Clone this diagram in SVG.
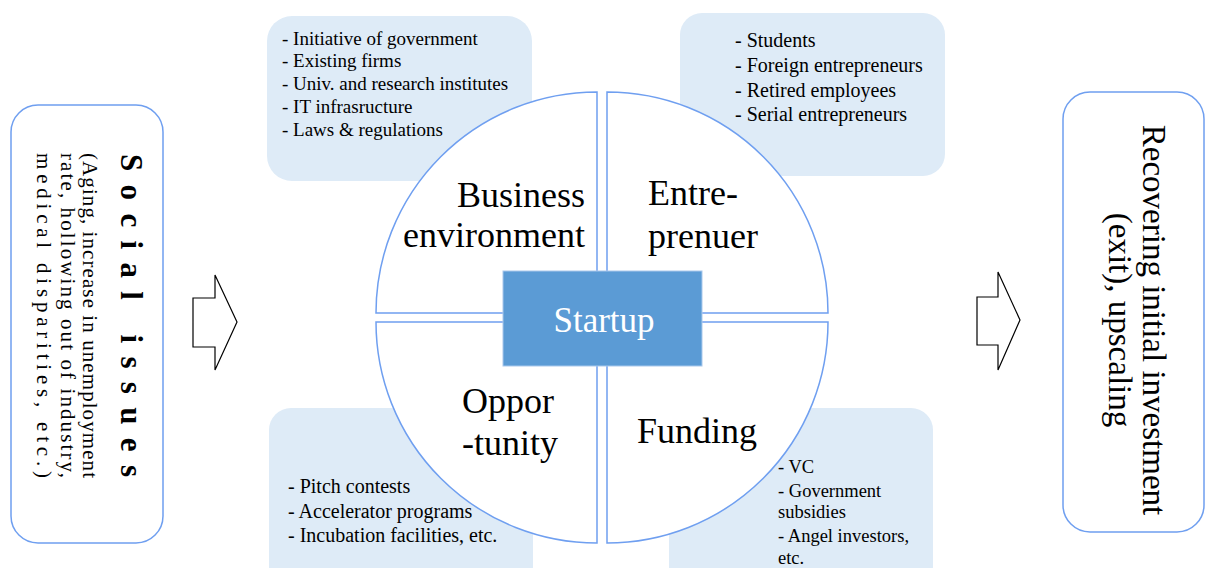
<svg xmlns="http://www.w3.org/2000/svg" width="1205" height="568" viewBox="0 0 1205 568">
<style>
.serif{font-family:"Liberation Serif","Times New Roman",serif;fill:#000}
.outline{fill:#fff;stroke:#6f9ff0;stroke-width:1.5}
.info{fill:#deebf7;stroke:none}
.quad{fill:#fff;stroke:#6f9ff0;stroke-width:1.5}
.list{font-size:19px}
.list2{font-size:20px}
.list3{font-size:18.5px}
.big{font-size:36px}
.arrow{fill:#fff;stroke:#000;stroke-width:1.2}
</style>
<rect width="1205" height="568" fill="#fff"/>

<g id="social-issues">
  <rect class="outline" x="11" y="105" width="152" height="438" rx="27"/>
  <text class="serif" font-size="31" font-weight="bold" transform="translate(121,154) rotate(90)" textLength="323" lengthAdjust="spacing">Social issues</text>
  <text class="serif" font-size="21" transform="translate(83,153) rotate(90)" textLength="325" lengthAdjust="spacing">(Aging, increase in unemployment</text>
  <text class="serif" font-size="21" transform="translate(61,153) rotate(90)" textLength="325" lengthAdjust="spacing">rate, hollowing out of industry,</text>
  <text class="serif" font-size="21" transform="translate(37,153) rotate(90)" textLength="325" lengthAdjust="spacing">medical disparities, etc.)</text>
</g>

<g id="connectors">
  <polygon class="arrow" points="193,298 215,298 215,275 237,322 215,370 215,347 193,347"/>
  <polygon class="arrow" points="977,297 998,297 998,272 1020,320 998,370 998,345 977,345"/>
</g>

<g id="box-business-bg"><rect class="info" x="267" y="16" width="265" height="165" rx="25"/></g>
<g id="box-entrepreneur-bg"><rect class="info" x="680" y="13" width="265" height="163" rx="22"/></g>
<g id="box-opportunity-bg"><rect class="info" x="269" y="408" width="264" height="180" rx="22"/></g>
<g id="box-funding-bg"><rect class="info" x="669" y="408" width="264" height="180" rx="22"/></g>

<g id="quad-business">
  <path class="quad" d="M597,313 L376,313 A221,221 0 0 1 597,92 Z"/>
  <text class="serif big" x="585" y="207" text-anchor="end">Business</text>
  <text class="serif big" x="585" y="247" text-anchor="end">environment</text>
</g>
<g id="quad-entrepreneur">
  <path class="quad" d="M607,313 L607,92 A221,221 0 0 1 828,313 Z"/>
  <text class="serif big" x="648" y="205">Entre-</text>
  <text class="serif big" x="648" y="248">prenuer</text>
</g>
<g id="quad-funding">
  <path class="quad" d="M607,322 L828,322 A221,221 0 0 1 607,543 Z"/>
  <text class="serif big" x="637" y="443">Funding</text>
</g>
<g id="quad-opportunity">
  <path class="quad" d="M597,322 L597,543 A221,221 0 0 1 376,322 Z"/>
  <text class="serif big" x="462" y="413">Oppor</text>
  <text class="serif big" x="462" y="455">-tunity</text>
</g>

<g id="startup">
  <rect x="503" y="271" width="199" height="95" fill="#5b9bd5" stroke="#a9c8ec" stroke-width="1"/>
  <text x="604" y="332" text-anchor="middle" font-family="Liberation Serif,serif" font-size="35" fill="#fff">Startup</text>
</g>

<g id="box-business-text" class="serif list">
  <text x="282" y="45">- Initiative of government</text>
  <text x="282" y="67">- Existing firms</text>
  <text x="282" y="90">- Univ. and research institutes</text>
  <text x="282" y="113">- IT infrasructure</text>
  <text x="282" y="136">- Laws &amp; regulations</text>
</g>
<g id="box-entrepreneur-text" class="serif" font-size="20">
  <text x="735" y="47">- Students</text>
  <text x="735" y="72">- Foreign entrepreneurs</text>
  <text x="735" y="97">- Retired employees</text>
  <text x="735" y="121">- Serial entrepreneurs</text>
</g>
<g id="box-opportunity-text" class="serif list2">
  <text x="288" y="493">- Pitch contests</text>
  <text x="288" y="518">- Accelerator programs</text>
  <text x="288" y="542">- Incubation facilities, etc.</text>
</g>
<g id="box-funding-text" class="serif list3">
  <text x="778" y="473">- VC</text>
  <text x="778" y="497">- Government</text>
  <text x="778" y="518">subsidies</text>
  <text x="778" y="542">- Angel investors,</text>
  <text x="778" y="564">etc.</text>
</g>

<g id="outcome">
  <rect class="outline" x="1063" y="92" width="141" height="440" rx="27"/>
  <text class="serif" font-size="33" transform="translate(1143,320) rotate(90)" text-anchor="middle">Recovering initial investment</text>
  <text class="serif" font-size="33" transform="translate(1109,320) rotate(90)" text-anchor="middle">(exit), upscaling</text>
</g>
</svg>
